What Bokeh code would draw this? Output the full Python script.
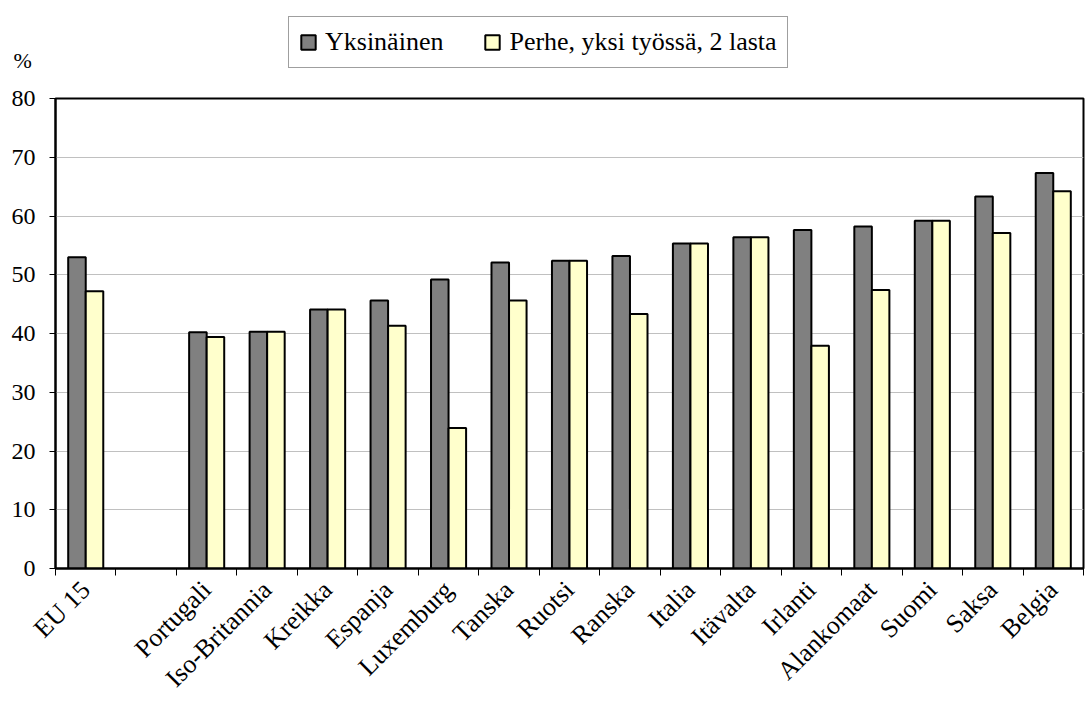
import math
from bokeh.plotting import figure
from bokeh.layouts import column
from bokeh.models import (ColumnDataSource, FixedTicker, Legend, LegendItem,
                          Label, Range1d)
from bokeh.embed import file_html
from bokeh.resources import INLINE

categories = ["EU 15", "", "Portugali", "Iso-Britannia", "Kreikka", "Espanja",
              "Luxemburg", "Tanska", "Ruotsi", "Ranska", "Italia", "Itävalta",
              "Irlanti", "Alankomaat", "Suomi", "Saksa", "Belgia"]
yksinainen = [53.0, None, 40.2, 40.3, 44.1, 45.6, 49.2, 52.1, 52.4, 53.2,
              55.3, 56.4, 57.6, 58.2, 59.2, 63.3, 67.3]
perhe = [47.2, None, 39.4, 40.3, 44.1, 41.3, 23.9, 45.6, 52.4, 43.3,
         55.3, 56.4, 37.9, 47.4, 59.2, 57.1, 64.2]
series_names = ["Yksinäinen", "Perhe, yksi työssä, 2 lasta"]
y_ticks = [0, 10, 20, 30, 40, 50, 60, 70, 80]

FONT = "Liberation Serif"
GRAY = "#808080"
YELLOW = "#FFFFCC"
n = len(categories)
centers = [i + 0.5 for i in range(n)]
bw = 0.29

src_a = ColumnDataSource(dict(
    x=[c - bw / 2 for c, v in zip(centers, yksinainen) if v is not None],
    top=[v for v in yksinainen if v is not None]))
src_b = ColumnDataSource(dict(
    x=[c + bw / 2 for c, v in zip(centers, perhe) if v is not None],
    top=[v for v in perhe if v is not None]))

# ---- header strip: legend and unit label ----
head = figure(width=1086, height=80, x_range=Range1d(0, n), y_range=Range1d(0, 80),
              output_backend="svg", toolbar_location=None, min_border=0)
head.frame_align = False
head.axis.visible = False
head.grid.visible = False
head.outline_line_color = None
ha = head.vbar(x="x", top="top", width=bw, source=src_a, visible=False,
               fill_color=GRAY, line_color="black", line_width=2)
hb = head.vbar(x="x", top="top", width=bw, source=src_b, visible=False,
               fill_color=YELLOW, line_color="black", line_width=2)
legend = Legend(items=[LegendItem(label=series_names[0], renderers=[ha]),
                       LegendItem(label=series_names[1], renderers=[hb])],
                orientation="horizontal", location=(288, 12))
legend.label_text_font = FONT
legend.label_text_font_size = "26px"
legend.label_text_color = "black"
legend.glyph_width = 18
legend.glyph_height = 18
legend.label_standoff = 8
legend.spacing = 40
legend.padding = 10
legend.margin = 0
legend.border_line_color = "#404040"
legend.border_line_width = 1
legend.background_fill_color = "white"
legend.background_fill_alpha = 1
head.add_layout(legend, "center")
pct = Label(x=13, y=8, x_units="screen", y_units="screen", text="%",
            text_font=FONT, text_font_size="22px", text_color="black")
head.add_layout(pct)

# ---- main chart ----
p = figure(width=1086, height=626, x_range=Range1d(0, n), y_range=Range1d(0, 80),
           output_backend="svg", toolbar_location=None,
           min_border_left=55, min_border_right=3, min_border_top=18,
           min_border_bottom=137)
p.frame_align = False
p.background_fill_color = "white"
p.border_fill_color = "white"
p.outline_line_color = "black"
p.outline_line_width = 2

p.vbar(x="x", top="top", width=bw, bottom=0, source=src_a,
       fill_color=GRAY, line_color="black", line_width=2)
p.vbar(x="x", top="top", width=bw, bottom=0, source=src_b,
       fill_color=YELLOW, line_color="black", line_width=2)

p.xgrid.visible = False
p.ygrid.grid_line_color = "#c0c0c0"
p.ygrid.grid_line_width = 1
p.ygrid.ticker = FixedTicker(ticks=y_ticks)

ya = p.yaxis[0]
ya.ticker = FixedTicker(ticks=y_ticks)
ya.axis_line_color = "black"
ya.axis_line_width = 2
ya.major_tick_out = 6
ya.major_tick_in = 0
ya.major_tick_line_color = "black"
ya.minor_tick_line_color = None
ya.major_label_text_font = FONT
ya.major_label_text_font_size = "24px"
ya.major_label_text_color = "black"
ya.major_label_standoff = 14

xa = p.xaxis[0]
xa.ticker = FixedTicker(ticks=centers, minor_ticks=list(range(n + 1)))
xa.major_label_overrides = {c: name for c, name in zip(centers, categories)}
xa.axis_line_color = "black"
xa.axis_line_width = 2
xa.major_tick_out = 0
xa.major_tick_in = 0
xa.minor_tick_out = 7
xa.minor_tick_in = 0
xa.minor_tick_line_color = "black"
xa.minor_tick_line_width = 1
xa.major_label_orientation = math.pi / 4
xa.major_label_text_font = FONT
xa.major_label_text_font_size = "26px"
xa.major_label_text_color = "black"
xa.major_label_standoff = 10

layout = column(head, p, spacing=0)
open("out.html", "w").write(file_html(layout, INLINE))
